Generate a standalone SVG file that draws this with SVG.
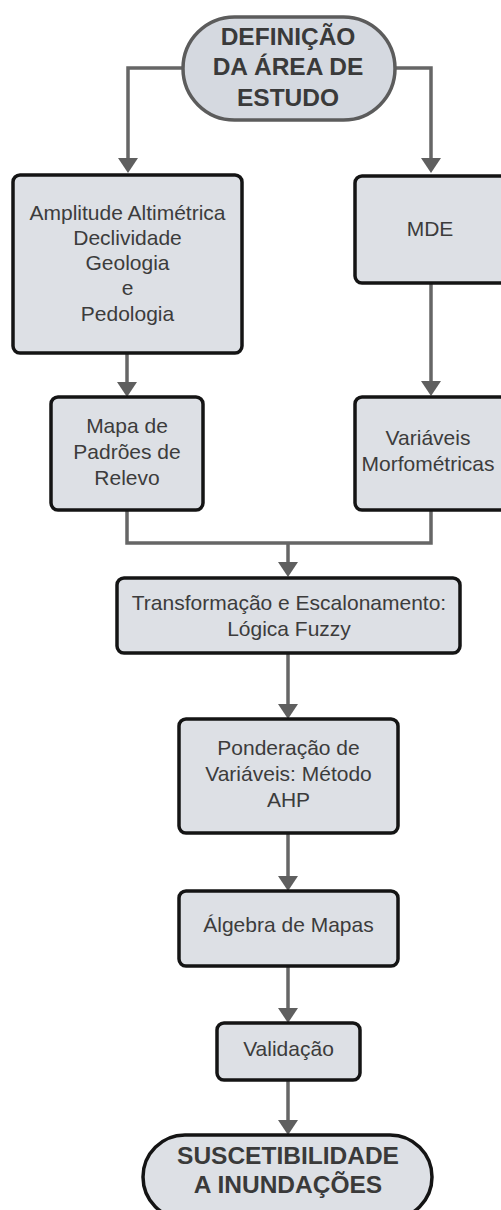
<svg xmlns="http://www.w3.org/2000/svg" width="501" height="1210" viewBox="0 0 501 1210">
<style>
.box{fill:#dde0e5;stroke:#141414;stroke-width:3.5}
.term1{fill:#d5d9e0;stroke:#5c5c5c;stroke-width:3.5}
.term2{fill:#dde0e5;stroke:#141414;stroke-width:3.5}
.t{font-family:"Liberation Sans",Arial,sans-serif;font-size:21px;fill:#3c3c3c;text-anchor:middle}
.tb{font-family:"Liberation Sans",Arial,sans-serif;font-size:24.5px;font-weight:bold;fill:#3a3a3a;text-anchor:middle}
.c{fill:none;stroke:#666;stroke-width:3.5}
</style>
<defs>
<marker id="ah" viewBox="0 0 15 20" markerWidth="15" markerHeight="20" refX="0" refY="10" orient="auto" markerUnits="userSpaceOnUse">
<path d="M0,0 L15,10 L0,20 z" fill="#5f5f5f"/>
</marker>
</defs>
<rect width="501" height="1210" fill="#fff"/>
<g id="connectors">
<path class="c" d="M183,68 H128 V158" marker-end="url(#ah)"/>
<path class="c" d="M395,68 H431 V158" marker-end="url(#ah)"/>
<path class="c" d="M127,353 V382" marker-end="url(#ah)"/>
<path class="c" d="M431,283 V381" marker-end="url(#ah)"/>
<path class="c" d="M127,510 V543 H431 V510"/>
<path class="c" d="M288,543 V562" marker-end="url(#ah)"/>
<path class="c" d="M288,653 V704" marker-end="url(#ah)"/>
<path class="c" d="M288,833 V876" marker-end="url(#ah)"/>
<path class="c" d="M288,966 V1008" marker-end="url(#ah)"/>
<path class="c" d="M288,1080 V1120" marker-end="url(#ah)"/>
</g>
<g id="n-inicio">
<rect class="term1" x="183" y="17" width="212" height="103" rx="51.5"/>
<text class="tb" x="288" y="45">DEFINIÇÃO</text>
<text class="tb" x="288" y="75">DA ÁREA DE</text>
<text class="tb" x="288" y="106">ESTUDO</text>
</g>
<g id="n-amplitude">
<rect class="box" x="13" y="175" width="229" height="178" rx="7"/>
<text class="t" x="127.5" y="220">Amplitude Altimétrica</text>
<text class="t" x="127.5" y="245">Declividade</text>
<text class="t" x="127.5" y="270">Geologia</text>
<text class="t" x="127.5" y="295">e</text>
<text class="t" x="127.5" y="321">Pedologia</text>
</g>
<g id="n-mde">
<rect class="box" x="355" y="176" width="160" height="107" rx="7"/>
<text class="t" x="430" y="236">MDE</text>
</g>
<g id="n-mapa">
<rect class="box" x="51" y="397" width="152" height="113" rx="7"/>
<text class="t" x="127" y="433">Mapa de</text>
<text class="t" x="127" y="459">Padrões de</text>
<text class="t" x="127" y="485">Relevo</text>
</g>
<g id="n-variaveis">
<rect class="box" x="355" y="397" width="160" height="113" rx="7"/>
<text class="t" x="428" y="445">Variáveis</text>
<text class="t" x="428" y="471">Morfométricas</text>
</g>
<g id="n-transformacao">
<rect class="box" x="117" y="578" width="343" height="75" rx="7"/>
<text class="t" x="289" y="610">Transformação e Escalonamento:</text>
<text class="t" x="289" y="636">Lógica Fuzzy</text>
</g>
<g id="n-ponderacao">
<rect class="box" x="179" y="719" width="219" height="114" rx="7"/>
<text class="t" x="288.5" y="755">Ponderação de</text>
<text class="t" x="288.5" y="781">Variáveis: Método</text>
<text class="t" x="288.5" y="807">AHP</text>
</g>
<g id="n-algebra">
<rect class="box" x="179" y="891" width="219" height="75" rx="7"/>
<text class="t" x="288.5" y="932">Álgebra de Mapas</text>
</g>
<g id="n-validacao">
<rect class="box" x="217" y="1023" width="143" height="57" rx="7"/>
<text class="t" x="288.5" y="1056">Validação</text>
</g>
<g id="n-fim">
<rect class="term2" x="143" y="1135" width="289" height="84" rx="42"/>
<text class="tb" x="288" y="1164">SUSCETIBILIDADE</text>
<text class="tb" x="288" y="1193">A INUNDAÇÕES</text>
</g>
</svg>
